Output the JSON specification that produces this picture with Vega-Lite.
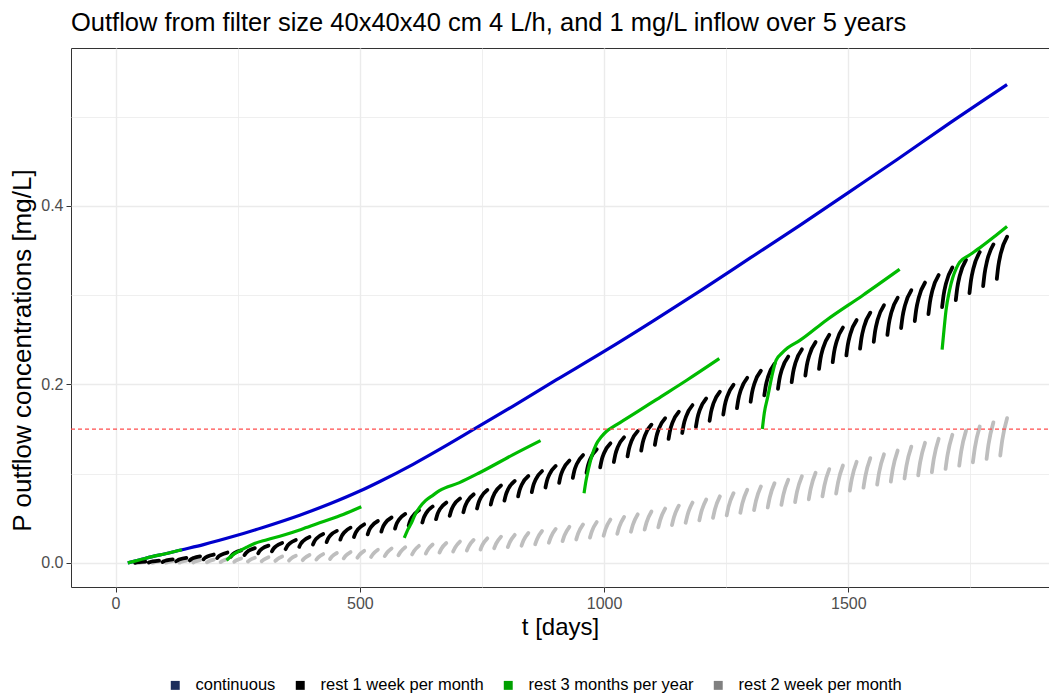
{
"$schema": "https://vega.github.io/schema/vega-lite/v6.json",
"width": 978, "height": 539,
"autosize": {"type": "none"},
"padding": {"left": 71, "top": 48, "right": 0, "bottom": 107},
"background": "white",
"title": {"text": "Outflow from filter size 40x40x40 cm 4 L/h, and 1 mg/L inflow over 5 years", "anchor": "start", "frame": "group", "fontSize": 25.5, "font": "Liberation Sans", "fontWeight": "normal", "color": "#000000", "offset": 14, "dy": 22, "baseline": "alphabetic"},
"config": {"view": {"stroke": "#333333", "strokeWidth": 1}, "font": "Liberation Sans"},
"data": {"values": [
{"series":"continuous","seg":0,"t":25,"p":0},{"series":"continuous","seg":0,"t":50,"p":0.0035},{"series":"continuous","seg":0,"t":75,"p":0.007},{"series":"continuous","seg":0,"t":100,"p":0.010},{"series":"continuous","seg":0,"t":134,"p":0.0145},{"series":"continuous","seg":0,"t":180,"p":0.0205},{"series":"continuous","seg":0,"t":240,"p":0.0295},{"series":"continuous","seg":0,"t":300,"p":0.0395},{"series":"continuous","seg":0,"t":377,"p":0.0535},{"series":"continuous","seg":0,"t":440,"p":0.0665},{"series":"continuous","seg":0,"t":500,"p":0.0805},{"series":"continuous","seg":0,"t":540,"p":0.091},{"series":"continuous","seg":0,"t":609,"p":0.1105},{"series":"continuous","seg":0,"t":680,"p":0.1325},{"series":"continuous","seg":0,"t":725,"p":0.147},{"series":"continuous","seg":0,"t":813,"p":0.1755},{"series":"continuous","seg":0,"t":902,"p":0.205},{"series":"continuous","seg":0,"t":1000,"p":0.237},{"series":"continuous","seg":0,"t":1100,"p":0.271},{"series":"continuous","seg":0,"t":1200,"p":0.306},{"series":"continuous","seg":0,"t":1300,"p":0.342},{"series":"continuous","seg":0,"t":1400,"p":0.378},{"series":"continuous","seg":0,"t":1500,"p":0.415},{"series":"continuous","seg":0,"t":1600,"p":0.452},{"series":"continuous","seg":0,"t":1700,"p":0.490},{"series":"continuous","seg":0,"t":1825,"p":0.536},

{"series":"rest 3 months per year","seg":1,"t":25,"p":0},{"series":"rest 3 months per year","seg":1,"t":50,"p":0.0035},{"series":"rest 3 months per year","seg":1,"t":75,"p":0.007},{"series":"rest 3 months per year","seg":1,"t":100,"p":0.010},{"series":"rest 3 months per year","seg":1,"t":136,"p":0.0148},
{"series":"rest 3 months per year","seg":2,"t":227,"p":0.003},{"series":"rest 3 months per year","seg":2,"t":240,"p":0.009},{"series":"rest 3 months per year","seg":2,"t":254,"p":0.0135},{"series":"rest 3 months per year","seg":2,"t":268,"p":0.0175},{"series":"rest 3 months per year","seg":2,"t":281,"p":0.021},{"series":"rest 3 months per year","seg":2,"t":310,"p":0.026},{"series":"rest 3 months per year","seg":2,"t":343,"p":0.031},{"series":"rest 3 months per year","seg":2,"t":380,"p":0.0375},{"series":"rest 3 months per year","seg":2,"t":411,"p":0.0435},{"series":"rest 3 months per year","seg":2,"t":460,"p":0.053},{"series":"rest 3 months per year","seg":2,"t":503,"p":0.063},
{"series":"rest 3 months per year","seg":3,"t":591,"p":0.028},{"series":"rest 3 months per year","seg":3,"t":598,"p":0.037},{"series":"rest 3 months per year","seg":3,"t":605,"p":0.044},{"series":"rest 3 months per year","seg":3,"t":613,"p":0.054},{"series":"rest 3 months per year","seg":3,"t":622,"p":0.062},{"series":"rest 3 months per year","seg":3,"t":635,"p":0.070},{"series":"rest 3 months per year","seg":3,"t":650,"p":0.076},{"series":"rest 3 months per year","seg":3,"t":663,"p":0.081},{"series":"rest 3 months per year","seg":3,"t":704,"p":0.090},{"series":"rest 3 months per year","seg":3,"t":745,"p":0.101},{"series":"rest 3 months per year","seg":3,"t":813,"p":0.121},{"series":"rest 3 months per year","seg":3,"t":870,"p":0.137},
{"series":"rest 3 months per year","seg":4,"t":959,"p":0.078},{"series":"rest 3 months per year","seg":4,"t":963,"p":0.092},{"series":"rest 3 months per year","seg":4,"t":968,"p":0.105},{"series":"rest 3 months per year","seg":4,"t":975,"p":0.120},{"series":"rest 3 months per year","seg":4,"t":984,"p":0.133},{"series":"rest 3 months per year","seg":4,"t":994,"p":0.141},{"series":"rest 3 months per year","seg":4,"t":1004,"p":0.147},{"series":"rest 3 months per year","seg":4,"t":1020,"p":0.153},{"series":"rest 3 months per year","seg":4,"t":1032,"p":0.157},{"series":"rest 3 months per year","seg":4,"t":1070,"p":0.170},{"series":"rest 3 months per year","seg":4,"t":1107,"p":0.183},{"series":"rest 3 months per year","seg":4,"t":1170,"p":0.205},{"series":"rest 3 months per year","seg":4,"t":1236,"p":0.229},
{"series":"rest 3 months per year","seg":5,"t":1324,"p":0.150},{"series":"rest 3 months per year","seg":5,"t":1328,"p":0.168},{"series":"rest 3 months per year","seg":5,"t":1335,"p":0.186},{"series":"rest 3 months per year","seg":5,"t":1343,"p":0.208},{"series":"rest 3 months per year","seg":5,"t":1352,"p":0.227},{"series":"rest 3 months per year","seg":5,"t":1364,"p":0.235},{"series":"rest 3 months per year","seg":5,"t":1376,"p":0.241},{"series":"rest 3 months per year","seg":5,"t":1400,"p":0.249},{"series":"rest 3 months per year","seg":5,"t":1455,"p":0.272},{"series":"rest 3 months per year","seg":5,"t":1530,"p":0.300},{"series":"rest 3 months per year","seg":5,"t":1605,"p":0.329},
{"series":"rest 3 months per year","seg":6,"t":1692,"p":0.239},{"series":"rest 3 months per year","seg":6,"t":1696,"p":0.262},{"series":"rest 3 months per year","seg":6,"t":1700,"p":0.283},{"series":"rest 3 months per year","seg":6,"t":1707,"p":0.305},{"series":"rest 3 months per year","seg":6,"t":1714,"p":0.320},{"series":"rest 3 months per year","seg":6,"t":1721,"p":0.330},{"series":"rest 3 months per year","seg":6,"t":1728,"p":0.337},{"series":"rest 3 months per year","seg":6,"t":1748,"p":0.345},{"series":"rest 3 months per year","seg":6,"t":1769,"p":0.353},{"series":"rest 3 months per year","seg":6,"t":1800,"p":0.366},{"series":"rest 3 months per year","seg":6,"t":1825,"p":0.377},

{"series":"rest 1 week per month","seg":0,"t":40,"p":0.0000},{"series":"rest 1 week per month","seg":0,"t":43,"p":0.0005},{"series":"rest 1 week per month","seg":0,"t":48,"p":0.0009},{"series":"rest 1 week per month","seg":0,"t":61,"p":0.0015},
{"series":"rest 1 week per month","seg":1,"t":68,"p":0.0004},{"series":"rest 1 week per month","seg":1,"t":71,"p":0.0011},{"series":"rest 1 week per month","seg":1,"t":76,"p":0.0017},{"series":"rest 1 week per month","seg":1,"t":89,"p":0.0026},
{"series":"rest 1 week per month","seg":2,"t":96,"p":0.0010},{"series":"rest 1 week per month","seg":2,"t":99,"p":0.0019},{"series":"rest 1 week per month","seg":2,"t":104,"p":0.0028},{"series":"rest 1 week per month","seg":2,"t":117,"p":0.0040},
{"series":"rest 1 week per month","seg":3,"t":124,"p":0.0018},{"series":"rest 1 week per month","seg":3,"t":127,"p":0.0029},{"series":"rest 1 week per month","seg":3,"t":132,"p":0.0041},{"series":"rest 1 week per month","seg":3,"t":145,"p":0.0056},
{"series":"rest 1 week per month","seg":4,"t":152,"p":0.0028},{"series":"rest 1 week per month","seg":4,"t":155,"p":0.0042},{"series":"rest 1 week per month","seg":4,"t":160,"p":0.0056},{"series":"rest 1 week per month","seg":4,"t":173,"p":0.0074},
{"series":"rest 1 week per month","seg":5,"t":180,"p":0.0040},{"series":"rest 1 week per month","seg":5,"t":183,"p":0.0056},{"series":"rest 1 week per month","seg":5,"t":188,"p":0.0072},{"series":"rest 1 week per month","seg":5,"t":201,"p":0.0094},
{"series":"rest 1 week per month","seg":6,"t":208,"p":0.0054},{"series":"rest 1 week per month","seg":6,"t":211,"p":0.0073},{"series":"rest 1 week per month","seg":6,"t":216,"p":0.0091},{"series":"rest 1 week per month","seg":6,"t":229,"p":0.0116},
{"series":"rest 1 week per month","seg":7,"t":236,"p":0.0070},{"series":"rest 1 week per month","seg":7,"t":239,"p":0.0091},{"series":"rest 1 week per month","seg":7,"t":244,"p":0.0112},{"series":"rest 1 week per month","seg":7,"t":257,"p":0.0140},
{"series":"rest 1 week per month","seg":8,"t":264,"p":0.0088},{"series":"rest 1 week per month","seg":8,"t":267,"p":0.0111},{"series":"rest 1 week per month","seg":8,"t":272,"p":0.0135},{"series":"rest 1 week per month","seg":8,"t":285,"p":0.0166},
{"series":"rest 1 week per month","seg":9,"t":292,"p":0.0108},{"series":"rest 1 week per month","seg":9,"t":295,"p":0.0134},{"series":"rest 1 week per month","seg":9,"t":300,"p":0.0160},{"series":"rest 1 week per month","seg":9,"t":313,"p":0.0194},
{"series":"rest 1 week per month","seg":10,"t":320,"p":0.0130},{"series":"rest 1 week per month","seg":10,"t":323,"p":0.0158},{"series":"rest 1 week per month","seg":10,"t":328,"p":0.0186},{"series":"rest 1 week per month","seg":10,"t":341,"p":0.0224},
{"series":"rest 1 week per month","seg":11,"t":348,"p":0.0154},{"series":"rest 1 week per month","seg":11,"t":351,"p":0.0185},{"series":"rest 1 week per month","seg":11,"t":356,"p":0.0215},{"series":"rest 1 week per month","seg":11,"t":369,"p":0.0256},
{"series":"rest 1 week per month","seg":12,"t":376,"p":0.0180},{"series":"rest 1 week per month","seg":12,"t":379,"p":0.0213},{"series":"rest 1 week per month","seg":12,"t":384,"p":0.0246},{"series":"rest 1 week per month","seg":12,"t":397,"p":0.0290},
{"series":"rest 1 week per month","seg":13,"t":404,"p":0.0206},{"series":"rest 1 week per month","seg":13,"t":407,"p":0.0241},{"series":"rest 1 week per month","seg":13,"t":412,"p":0.0277},{"series":"rest 1 week per month","seg":13,"t":425,"p":0.0324},
{"series":"rest 1 week per month","seg":14,"t":432,"p":0.0233},{"series":"rest 1 week per month","seg":14,"t":435,"p":0.0271},{"series":"rest 1 week per month","seg":14,"t":440,"p":0.0309},{"series":"rest 1 week per month","seg":14,"t":453,"p":0.0359},
{"series":"rest 1 week per month","seg":15,"t":460,"p":0.0261},{"series":"rest 1 week per month","seg":15,"t":463,"p":0.0301},{"series":"rest 1 week per month","seg":15,"t":468,"p":0.0341},{"series":"rest 1 week per month","seg":15,"t":481,"p":0.0395},
{"series":"rest 1 week per month","seg":16,"t":488,"p":0.0290},{"series":"rest 1 week per month","seg":16,"t":491,"p":0.0333},{"series":"rest 1 week per month","seg":16,"t":496,"p":0.0375},{"series":"rest 1 week per month","seg":16,"t":509,"p":0.0432},
{"series":"rest 1 week per month","seg":17,"t":516,"p":0.0320},{"series":"rest 1 week per month","seg":17,"t":519,"p":0.0365},{"series":"rest 1 week per month","seg":17,"t":524,"p":0.0410},{"series":"rest 1 week per month","seg":17,"t":537,"p":0.0470},
{"series":"rest 1 week per month","seg":18,"t":544,"p":0.0351},{"series":"rest 1 week per month","seg":18,"t":547,"p":0.0398},{"series":"rest 1 week per month","seg":18,"t":552,"p":0.0446},{"series":"rest 1 week per month","seg":18,"t":565,"p":0.0509},
{"series":"rest 1 week per month","seg":19,"t":572,"p":0.0384},{"series":"rest 1 week per month","seg":19,"t":575,"p":0.0434},{"series":"rest 1 week per month","seg":19,"t":580,"p":0.0483},{"series":"rest 1 week per month","seg":19,"t":593,"p":0.0549},
{"series":"rest 1 week per month","seg":20,"t":600,"p":0.0418},{"series":"rest 1 week per month","seg":20,"t":603,"p":0.0470},{"series":"rest 1 week per month","seg":20,"t":608,"p":0.0521},{"series":"rest 1 week per month","seg":20,"t":621,"p":0.0590},
{"series":"rest 1 week per month","seg":21,"t":628,"p":0.0453},{"series":"rest 1 week per month","seg":21,"t":631,"p":0.0507},{"series":"rest 1 week per month","seg":21,"t":636,"p":0.0560},{"series":"rest 1 week per month","seg":21,"t":649,"p":0.0632},
{"series":"rest 1 week per month","seg":22,"t":656,"p":0.0490},{"series":"rest 1 week per month","seg":22,"t":659,"p":0.0546},{"series":"rest 1 week per month","seg":22,"t":664,"p":0.0602},{"series":"rest 1 week per month","seg":22,"t":677,"p":0.0676},
{"series":"rest 1 week per month","seg":23,"t":684,"p":0.0528},{"series":"rest 1 week per month","seg":23,"t":687,"p":0.0586},{"series":"rest 1 week per month","seg":23,"t":692,"p":0.0644},{"series":"rest 1 week per month","seg":23,"t":705,"p":0.0721},
{"series":"rest 1 week per month","seg":24,"t":712,"p":0.0568},{"series":"rest 1 week per month","seg":24,"t":715,"p":0.0628},{"series":"rest 1 week per month","seg":24,"t":720,"p":0.0688},{"series":"rest 1 week per month","seg":24,"t":733,"p":0.0768},
{"series":"rest 1 week per month","seg":25,"t":740,"p":0.0610},{"series":"rest 1 week per month","seg":25,"t":743,"p":0.0672},{"series":"rest 1 week per month","seg":25,"t":748,"p":0.0734},{"series":"rest 1 week per month","seg":25,"t":761,"p":0.0817},
{"series":"rest 1 week per month","seg":26,"t":768,"p":0.0653},{"series":"rest 1 week per month","seg":26,"t":771,"p":0.0717},{"series":"rest 1 week per month","seg":26,"t":776,"p":0.0781},{"series":"rest 1 week per month","seg":26,"t":789,"p":0.0867},
{"series":"rest 1 week per month","seg":27,"t":796,"p":0.0698},{"series":"rest 1 week per month","seg":27,"t":799,"p":0.0764},{"series":"rest 1 week per month","seg":27,"t":804,"p":0.0831},{"series":"rest 1 week per month","seg":27,"t":817,"p":0.0919},
{"series":"rest 1 week per month","seg":28,"t":824,"p":0.0745},{"series":"rest 1 week per month","seg":28,"t":827,"p":0.0813},{"series":"rest 1 week per month","seg":28,"t":832,"p":0.0882},{"series":"rest 1 week per month","seg":28,"t":845,"p":0.0973},
{"series":"rest 1 week per month","seg":29,"t":852,"p":0.0794},{"series":"rest 1 week per month","seg":29,"t":855,"p":0.0865},{"series":"rest 1 week per month","seg":29,"t":860,"p":0.0935},{"series":"rest 1 week per month","seg":29,"t":873,"p":0.1029},
{"series":"rest 1 week per month","seg":30,"t":880,"p":0.0845},{"series":"rest 1 week per month","seg":30,"t":883,"p":0.0918},{"series":"rest 1 week per month","seg":30,"t":888,"p":0.0990},{"series":"rest 1 week per month","seg":30,"t":901,"p":0.1087},
{"series":"rest 1 week per month","seg":31,"t":908,"p":0.0898},{"series":"rest 1 week per month","seg":31,"t":911,"p":0.0973},{"series":"rest 1 week per month","seg":31,"t":916,"p":0.1047},{"series":"rest 1 week per month","seg":31,"t":929,"p":0.1147},
{"series":"rest 1 week per month","seg":32,"t":936,"p":0.0953},{"series":"rest 1 week per month","seg":32,"t":939,"p":0.1030},{"series":"rest 1 week per month","seg":32,"t":944,"p":0.1107},{"series":"rest 1 week per month","seg":32,"t":957,"p":0.1209},
{"series":"rest 1 week per month","seg":33,"t":964,"p":0.1010},{"series":"rest 1 week per month","seg":33,"t":967,"p":0.1089},{"series":"rest 1 week per month","seg":33,"t":972,"p":0.1168},{"series":"rest 1 week per month","seg":33,"t":985,"p":0.1273},
{"series":"rest 1 week per month","seg":34,"t":992,"p":0.1070},{"series":"rest 1 week per month","seg":34,"t":995,"p":0.1151},{"series":"rest 1 week per month","seg":34,"t":1000,"p":0.1232},{"series":"rest 1 week per month","seg":34,"t":1013,"p":0.1340},
{"series":"rest 1 week per month","seg":35,"t":1020,"p":0.1131},{"series":"rest 1 week per month","seg":35,"t":1023,"p":0.1214},{"series":"rest 1 week per month","seg":35,"t":1028,"p":0.1297},{"series":"rest 1 week per month","seg":35,"t":1041,"p":0.1408},
{"series":"rest 1 week per month","seg":36,"t":1048,"p":0.1194},{"series":"rest 1 week per month","seg":36,"t":1051,"p":0.1279},{"series":"rest 1 week per month","seg":36,"t":1056,"p":0.1364},{"series":"rest 1 week per month","seg":36,"t":1069,"p":0.1478},
{"series":"rest 1 week per month","seg":37,"t":1076,"p":0.1258},{"series":"rest 1 week per month","seg":37,"t":1079,"p":0.1345},{"series":"rest 1 week per month","seg":37,"t":1084,"p":0.1433},{"series":"rest 1 week per month","seg":37,"t":1097,"p":0.1549},
{"series":"rest 1 week per month","seg":38,"t":1104,"p":0.1323},{"series":"rest 1 week per month","seg":38,"t":1107,"p":0.1412},{"series":"rest 1 week per month","seg":38,"t":1112,"p":0.1502},{"series":"rest 1 week per month","seg":38,"t":1125,"p":0.1621},
{"series":"rest 1 week per month","seg":39,"t":1132,"p":0.1389},{"series":"rest 1 week per month","seg":39,"t":1135,"p":0.1481},{"series":"rest 1 week per month","seg":39,"t":1140,"p":0.1572},{"series":"rest 1 week per month","seg":39,"t":1153,"p":0.1694},
{"series":"rest 1 week per month","seg":40,"t":1160,"p":0.1456},{"series":"rest 1 week per month","seg":40,"t":1163,"p":0.1550},{"series":"rest 1 week per month","seg":40,"t":1168,"p":0.1643},{"series":"rest 1 week per month","seg":40,"t":1181,"p":0.1768},
{"series":"rest 1 week per month","seg":41,"t":1188,"p":0.1524},{"series":"rest 1 week per month","seg":41,"t":1191,"p":0.1620},{"series":"rest 1 week per month","seg":41,"t":1196,"p":0.1715},{"series":"rest 1 week per month","seg":41,"t":1209,"p":0.1843},
{"series":"rest 1 week per month","seg":42,"t":1216,"p":0.1593},{"series":"rest 1 week per month","seg":42,"t":1219,"p":0.1691},{"series":"rest 1 week per month","seg":42,"t":1224,"p":0.1789},{"series":"rest 1 week per month","seg":42,"t":1237,"p":0.1919},
{"series":"rest 1 week per month","seg":43,"t":1244,"p":0.1663},{"series":"rest 1 week per month","seg":43,"t":1247,"p":0.1763},{"series":"rest 1 week per month","seg":43,"t":1252,"p":0.1863},{"series":"rest 1 week per month","seg":43,"t":1265,"p":0.1996},
{"series":"rest 1 week per month","seg":44,"t":1272,"p":0.1734},{"series":"rest 1 week per month","seg":44,"t":1275,"p":0.1836},{"series":"rest 1 week per month","seg":44,"t":1280,"p":0.1938},{"series":"rest 1 week per month","seg":44,"t":1293,"p":0.2074},
{"series":"rest 1 week per month","seg":45,"t":1300,"p":0.1806},{"series":"rest 1 week per month","seg":45,"t":1303,"p":0.1910},{"series":"rest 1 week per month","seg":45,"t":1308,"p":0.2014},{"series":"rest 1 week per month","seg":45,"t":1321,"p":0.2153},
{"series":"rest 1 week per month","seg":46,"t":1328,"p":0.1878},{"series":"rest 1 week per month","seg":46,"t":1331,"p":0.1984},{"series":"rest 1 week per month","seg":46,"t":1336,"p":0.2090},{"series":"rest 1 week per month","seg":46,"t":1349,"p":0.2232},
{"series":"rest 1 week per month","seg":47,"t":1356,"p":0.1951},{"series":"rest 1 week per month","seg":47,"t":1359,"p":0.2059},{"series":"rest 1 week per month","seg":47,"t":1364,"p":0.2168},{"series":"rest 1 week per month","seg":47,"t":1377,"p":0.2312},
{"series":"rest 1 week per month","seg":48,"t":1384,"p":0.2025},{"series":"rest 1 week per month","seg":48,"t":1387,"p":0.2135},{"series":"rest 1 week per month","seg":48,"t":1392,"p":0.2246},{"series":"rest 1 week per month","seg":48,"t":1405,"p":0.2393},
{"series":"rest 1 week per month","seg":49,"t":1412,"p":0.2099},{"series":"rest 1 week per month","seg":49,"t":1415,"p":0.2212},{"series":"rest 1 week per month","seg":49,"t":1420,"p":0.2324},{"series":"rest 1 week per month","seg":49,"t":1433,"p":0.2474},
{"series":"rest 1 week per month","seg":50,"t":1440,"p":0.2174},{"series":"rest 1 week per month","seg":50,"t":1443,"p":0.2289},{"series":"rest 1 week per month","seg":50,"t":1448,"p":0.2403},{"series":"rest 1 week per month","seg":50,"t":1461,"p":0.2556},
{"series":"rest 1 week per month","seg":51,"t":1468,"p":0.2249},{"series":"rest 1 week per month","seg":51,"t":1471,"p":0.2366},{"series":"rest 1 week per month","seg":51,"t":1476,"p":0.2482},{"series":"rest 1 week per month","seg":51,"t":1489,"p":0.2638},
{"series":"rest 1 week per month","seg":52,"t":1496,"p":0.2325},{"series":"rest 1 week per month","seg":52,"t":1499,"p":0.2444},{"series":"rest 1 week per month","seg":52,"t":1504,"p":0.2563},{"series":"rest 1 week per month","seg":52,"t":1517,"p":0.2721},
{"series":"rest 1 week per month","seg":53,"t":1524,"p":0.2401},{"series":"rest 1 week per month","seg":53,"t":1527,"p":0.2522},{"series":"rest 1 week per month","seg":53,"t":1532,"p":0.2643},{"series":"rest 1 week per month","seg":53,"t":1545,"p":0.2804},
{"series":"rest 1 week per month","seg":54,"t":1552,"p":0.2478},{"series":"rest 1 week per month","seg":54,"t":1555,"p":0.2601},{"series":"rest 1 week per month","seg":54,"t":1560,"p":0.2724},{"series":"rest 1 week per month","seg":54,"t":1573,"p":0.2888},
{"series":"rest 1 week per month","seg":55,"t":1580,"p":0.2555},{"series":"rest 1 week per month","seg":55,"t":1583,"p":0.2680},{"series":"rest 1 week per month","seg":55,"t":1588,"p":0.2805},{"series":"rest 1 week per month","seg":55,"t":1601,"p":0.2972},
{"series":"rest 1 week per month","seg":56,"t":1608,"p":0.2632},{"series":"rest 1 week per month","seg":56,"t":1611,"p":0.2759},{"series":"rest 1 week per month","seg":56,"t":1616,"p":0.2886},{"series":"rest 1 week per month","seg":56,"t":1629,"p":0.3056},
{"series":"rest 1 week per month","seg":57,"t":1636,"p":0.2710},{"series":"rest 1 week per month","seg":57,"t":1639,"p":0.2839},{"series":"rest 1 week per month","seg":57,"t":1644,"p":0.2969},{"series":"rest 1 week per month","seg":57,"t":1657,"p":0.3141},
{"series":"rest 1 week per month","seg":58,"t":1664,"p":0.2788},{"series":"rest 1 week per month","seg":58,"t":1667,"p":0.2919},{"series":"rest 1 week per month","seg":58,"t":1672,"p":0.3051},{"series":"rest 1 week per month","seg":58,"t":1685,"p":0.3226},
{"series":"rest 1 week per month","seg":59,"t":1692,"p":0.2866},{"series":"rest 1 week per month","seg":59,"t":1695,"p":0.3000},{"series":"rest 1 week per month","seg":59,"t":1700,"p":0.3133},{"series":"rest 1 week per month","seg":59,"t":1713,"p":0.3311},
{"series":"rest 1 week per month","seg":60,"t":1720,"p":0.2945},{"series":"rest 1 week per month","seg":60,"t":1723,"p":0.3081},{"series":"rest 1 week per month","seg":60,"t":1728,"p":0.3216},{"series":"rest 1 week per month","seg":60,"t":1741,"p":0.3397},
{"series":"rest 1 week per month","seg":61,"t":1748,"p":0.3024},{"series":"rest 1 week per month","seg":61,"t":1751,"p":0.3162},{"series":"rest 1 week per month","seg":61,"t":1756,"p":0.3299},{"series":"rest 1 week per month","seg":61,"t":1769,"p":0.3483},
{"series":"rest 1 week per month","seg":62,"t":1776,"p":0.3103},{"series":"rest 1 week per month","seg":62,"t":1779,"p":0.3243},{"series":"rest 1 week per month","seg":62,"t":1784,"p":0.3383},{"series":"rest 1 week per month","seg":62,"t":1797,"p":0.3569},
{"series":"rest 1 week per month","seg":63,"t":1804,"p":0.3182},{"series":"rest 1 week per month","seg":63,"t":1807,"p":0.3324},{"series":"rest 1 week per month","seg":63,"t":1812,"p":0.3466},{"series":"rest 1 week per month","seg":63,"t":1825,"p":0.3655},

{"series":"rest 2 week per month","seg":0,"t":47,"p":0.0000},{"series":"rest 2 week per month","seg":0,"t":51,"p":0.0004},{"series":"rest 2 week per month","seg":0,"t":61,"p":0.0010},
{"series":"rest 2 week per month","seg":1,"t":75,"p":0.0001},{"series":"rest 2 week per month","seg":1,"t":79,"p":0.0007},{"series":"rest 2 week per month","seg":1,"t":89,"p":0.0015},
{"series":"rest 2 week per month","seg":2,"t":103,"p":0.0002},{"series":"rest 2 week per month","seg":2,"t":107,"p":0.0009},{"series":"rest 2 week per month","seg":2,"t":117,"p":0.0020},
{"series":"rest 2 week per month","seg":3,"t":131,"p":0.0003},{"series":"rest 2 week per month","seg":3,"t":135,"p":0.0012},{"series":"rest 2 week per month","seg":3,"t":145,"p":0.0025},
{"series":"rest 2 week per month","seg":4,"t":159,"p":0.0005},{"series":"rest 2 week per month","seg":4,"t":163,"p":0.0015},{"series":"rest 2 week per month","seg":4,"t":173,"p":0.0031},
{"series":"rest 2 week per month","seg":5,"t":187,"p":0.0007},{"series":"rest 2 week per month","seg":5,"t":191,"p":0.0019},{"series":"rest 2 week per month","seg":5,"t":201,"p":0.0037},
{"series":"rest 2 week per month","seg":6,"t":215,"p":0.0009},{"series":"rest 2 week per month","seg":6,"t":219,"p":0.0023},{"series":"rest 2 week per month","seg":6,"t":229,"p":0.0043},
{"series":"rest 2 week per month","seg":7,"t":243,"p":0.0012},{"series":"rest 2 week per month","seg":7,"t":247,"p":0.0027},{"series":"rest 2 week per month","seg":7,"t":257,"p":0.0050},
{"series":"rest 2 week per month","seg":8,"t":271,"p":0.0015},{"series":"rest 2 week per month","seg":8,"t":275,"p":0.0032},{"series":"rest 2 week per month","seg":8,"t":285,"p":0.0057},
{"series":"rest 2 week per month","seg":9,"t":299,"p":0.0018},{"series":"rest 2 week per month","seg":9,"t":303,"p":0.0036},{"series":"rest 2 week per month","seg":9,"t":313,"p":0.0064},
{"series":"rest 2 week per month","seg":10,"t":327,"p":0.0022},{"series":"rest 2 week per month","seg":10,"t":331,"p":0.0042},{"series":"rest 2 week per month","seg":10,"t":341,"p":0.0072},
{"series":"rest 2 week per month","seg":11,"t":355,"p":0.0026},{"series":"rest 2 week per month","seg":11,"t":359,"p":0.0048},{"series":"rest 2 week per month","seg":11,"t":369,"p":0.0080},
{"series":"rest 2 week per month","seg":12,"t":383,"p":0.0031},{"series":"rest 2 week per month","seg":12,"t":387,"p":0.0054},{"series":"rest 2 week per month","seg":12,"t":397,"p":0.0089},
{"series":"rest 2 week per month","seg":13,"t":411,"p":0.0037},{"series":"rest 2 week per month","seg":13,"t":415,"p":0.0062},{"series":"rest 2 week per month","seg":13,"t":425,"p":0.0099},
{"series":"rest 2 week per month","seg":14,"t":439,"p":0.0044},{"series":"rest 2 week per month","seg":14,"t":443,"p":0.0071},{"series":"rest 2 week per month","seg":14,"t":453,"p":0.0111},
{"series":"rest 2 week per month","seg":15,"t":467,"p":0.0051},{"series":"rest 2 week per month","seg":15,"t":471,"p":0.0079},{"series":"rest 2 week per month","seg":15,"t":481,"p":0.0122},
{"series":"rest 2 week per month","seg":16,"t":495,"p":0.0059},{"series":"rest 2 week per month","seg":16,"t":499,"p":0.0089},{"series":"rest 2 week per month","seg":16,"t":509,"p":0.0135},
{"series":"rest 2 week per month","seg":17,"t":523,"p":0.0067},{"series":"rest 2 week per month","seg":17,"t":527,"p":0.0099},{"series":"rest 2 week per month","seg":17,"t":537,"p":0.0148},
{"series":"rest 2 week per month","seg":18,"t":551,"p":0.0076},{"series":"rest 2 week per month","seg":18,"t":555,"p":0.0110},{"series":"rest 2 week per month","seg":18,"t":565,"p":0.0162},
{"series":"rest 2 week per month","seg":19,"t":579,"p":0.0085},{"series":"rest 2 week per month","seg":19,"t":583,"p":0.0121},{"series":"rest 2 week per month","seg":19,"t":593,"p":0.0176},
{"series":"rest 2 week per month","seg":20,"t":607,"p":0.0095},{"series":"rest 2 week per month","seg":20,"t":611,"p":0.0133},{"series":"rest 2 week per month","seg":20,"t":621,"p":0.0191},
{"series":"rest 2 week per month","seg":21,"t":635,"p":0.0105},{"series":"rest 2 week per month","seg":21,"t":639,"p":0.0145},{"series":"rest 2 week per month","seg":21,"t":649,"p":0.0206},
{"series":"rest 2 week per month","seg":22,"t":663,"p":0.0116},{"series":"rest 2 week per month","seg":22,"t":667,"p":0.0159},{"series":"rest 2 week per month","seg":22,"t":677,"p":0.0223},
{"series":"rest 2 week per month","seg":23,"t":691,"p":0.0127},{"series":"rest 2 week per month","seg":23,"t":695,"p":0.0172},{"series":"rest 2 week per month","seg":23,"t":705,"p":0.0239},
{"series":"rest 2 week per month","seg":24,"t":719,"p":0.0139},{"series":"rest 2 week per month","seg":24,"t":723,"p":0.0186},{"series":"rest 2 week per month","seg":24,"t":733,"p":0.0257},
{"series":"rest 2 week per month","seg":25,"t":747,"p":0.0151},{"series":"rest 2 week per month","seg":25,"t":751,"p":0.0201},{"series":"rest 2 week per month","seg":25,"t":761,"p":0.0275},
{"series":"rest 2 week per month","seg":26,"t":775,"p":0.0164},{"series":"rest 2 week per month","seg":26,"t":779,"p":0.0216},{"series":"rest 2 week per month","seg":26,"t":789,"p":0.0294},
{"series":"rest 2 week per month","seg":27,"t":803,"p":0.0178},{"series":"rest 2 week per month","seg":27,"t":807,"p":0.0232},{"series":"rest 2 week per month","seg":27,"t":817,"p":0.0314},
{"series":"rest 2 week per month","seg":28,"t":831,"p":0.0193},{"series":"rest 2 week per month","seg":28,"t":835,"p":0.0250},{"series":"rest 2 week per month","seg":28,"t":845,"p":0.0335},
{"series":"rest 2 week per month","seg":29,"t":859,"p":0.0209},{"series":"rest 2 week per month","seg":29,"t":863,"p":0.0268},{"series":"rest 2 week per month","seg":29,"t":873,"p":0.0357},
{"series":"rest 2 week per month","seg":30,"t":887,"p":0.0226},{"series":"rest 2 week per month","seg":30,"t":891,"p":0.0288},{"series":"rest 2 week per month","seg":30,"t":901,"p":0.0381},
{"series":"rest 2 week per month","seg":31,"t":915,"p":0.0244},{"series":"rest 2 week per month","seg":31,"t":919,"p":0.0308},{"series":"rest 2 week per month","seg":31,"t":929,"p":0.0405},
{"series":"rest 2 week per month","seg":32,"t":943,"p":0.0263},{"series":"rest 2 week per month","seg":32,"t":947,"p":0.0330},{"series":"rest 2 week per month","seg":32,"t":957,"p":0.0431},
{"series":"rest 2 week per month","seg":33,"t":971,"p":0.0283},{"series":"rest 2 week per month","seg":33,"t":975,"p":0.0353},{"series":"rest 2 week per month","seg":33,"t":985,"p":0.0458},
{"series":"rest 2 week per month","seg":34,"t":999,"p":0.0304},{"series":"rest 2 week per month","seg":34,"t":1003,"p":0.0377},{"series":"rest 2 week per month","seg":34,"t":1013,"p":0.0486},
{"series":"rest 2 week per month","seg":35,"t":1027,"p":0.0326},{"series":"rest 2 week per month","seg":35,"t":1031,"p":0.0402},{"series":"rest 2 week per month","seg":35,"t":1041,"p":0.0515},
{"series":"rest 2 week per month","seg":36,"t":1055,"p":0.0349},{"series":"rest 2 week per month","seg":36,"t":1059,"p":0.0427},{"series":"rest 2 week per month","seg":36,"t":1069,"p":0.0545},
{"series":"rest 2 week per month","seg":37,"t":1083,"p":0.0373},{"series":"rest 2 week per month","seg":37,"t":1087,"p":0.0454},{"series":"rest 2 week per month","seg":37,"t":1097,"p":0.0576},
{"series":"rest 2 week per month","seg":38,"t":1111,"p":0.0398},{"series":"rest 2 week per month","seg":38,"t":1115,"p":0.0482},{"series":"rest 2 week per month","seg":38,"t":1125,"p":0.0609},
{"series":"rest 2 week per month","seg":39,"t":1139,"p":0.0424},{"series":"rest 2 week per month","seg":39,"t":1143,"p":0.0511},{"series":"rest 2 week per month","seg":39,"t":1153,"p":0.0642},
{"series":"rest 2 week per month","seg":40,"t":1167,"p":0.0450},{"series":"rest 2 week per month","seg":40,"t":1171,"p":0.0540},{"series":"rest 2 week per month","seg":40,"t":1181,"p":0.0676},
{"series":"rest 2 week per month","seg":41,"t":1195,"p":0.0477},{"series":"rest 2 week per month","seg":41,"t":1199,"p":0.0570},{"series":"rest 2 week per month","seg":41,"t":1209,"p":0.0710},
{"series":"rest 2 week per month","seg":42,"t":1223,"p":0.0505},{"series":"rest 2 week per month","seg":42,"t":1227,"p":0.0601},{"series":"rest 2 week per month","seg":42,"t":1237,"p":0.0746},
{"series":"rest 2 week per month","seg":43,"t":1251,"p":0.0533},{"series":"rest 2 week per month","seg":43,"t":1255,"p":0.0633},{"series":"rest 2 week per month","seg":43,"t":1265,"p":0.0782},
{"series":"rest 2 week per month","seg":44,"t":1279,"p":0.0562},{"series":"rest 2 week per month","seg":44,"t":1283,"p":0.0665},{"series":"rest 2 week per month","seg":44,"t":1293,"p":0.0819},
{"series":"rest 2 week per month","seg":45,"t":1307,"p":0.0591},{"series":"rest 2 week per month","seg":45,"t":1311,"p":0.0697},{"series":"rest 2 week per month","seg":45,"t":1321,"p":0.0856},
{"series":"rest 2 week per month","seg":46,"t":1335,"p":0.0621},{"series":"rest 2 week per month","seg":46,"t":1339,"p":0.0730},{"series":"rest 2 week per month","seg":46,"t":1349,"p":0.0894},
{"series":"rest 2 week per month","seg":47,"t":1363,"p":0.0651},{"series":"rest 2 week per month","seg":47,"t":1367,"p":0.0763},{"series":"rest 2 week per month","seg":47,"t":1377,"p":0.0932},
{"series":"rest 2 week per month","seg":48,"t":1391,"p":0.0682},{"series":"rest 2 week per month","seg":48,"t":1395,"p":0.0798},{"series":"rest 2 week per month","seg":48,"t":1405,"p":0.0971},
{"series":"rest 2 week per month","seg":49,"t":1419,"p":0.0713},{"series":"rest 2 week per month","seg":49,"t":1423,"p":0.0832},{"series":"rest 2 week per month","seg":49,"t":1433,"p":0.1010},
{"series":"rest 2 week per month","seg":50,"t":1447,"p":0.0745},{"series":"rest 2 week per month","seg":50,"t":1451,"p":0.0867},{"series":"rest 2 week per month","seg":50,"t":1461,"p":0.1051},
{"series":"rest 2 week per month","seg":51,"t":1475,"p":0.0777},{"series":"rest 2 week per month","seg":51,"t":1479,"p":0.0903},{"series":"rest 2 week per month","seg":51,"t":1489,"p":0.1091},
{"series":"rest 2 week per month","seg":52,"t":1503,"p":0.0810},{"series":"rest 2 week per month","seg":52,"t":1507,"p":0.0939},{"series":"rest 2 week per month","seg":52,"t":1517,"p":0.1133},
{"series":"rest 2 week per month","seg":53,"t":1531,"p":0.0843},{"series":"rest 2 week per month","seg":53,"t":1535,"p":0.0975},{"series":"rest 2 week per month","seg":53,"t":1545,"p":0.1174},
{"series":"rest 2 week per month","seg":54,"t":1559,"p":0.0877},{"series":"rest 2 week per month","seg":54,"t":1563,"p":0.1013},{"series":"rest 2 week per month","seg":54,"t":1573,"p":0.1217},
{"series":"rest 2 week per month","seg":55,"t":1587,"p":0.0911},{"series":"rest 2 week per month","seg":55,"t":1591,"p":0.1050},{"series":"rest 2 week per month","seg":55,"t":1601,"p":0.1259},
{"series":"rest 2 week per month","seg":56,"t":1615,"p":0.0946},{"series":"rest 2 week per month","seg":56,"t":1619,"p":0.1089},{"series":"rest 2 week per month","seg":56,"t":1629,"p":0.1303},
{"series":"rest 2 week per month","seg":57,"t":1643,"p":0.0981},{"series":"rest 2 week per month","seg":57,"t":1647,"p":0.1127},{"series":"rest 2 week per month","seg":57,"t":1657,"p":0.1346},
{"series":"rest 2 week per month","seg":58,"t":1671,"p":0.1017},{"series":"rest 2 week per month","seg":58,"t":1675,"p":0.1167},{"series":"rest 2 week per month","seg":58,"t":1685,"p":0.1391},
{"series":"rest 2 week per month","seg":59,"t":1699,"p":0.1053},{"series":"rest 2 week per month","seg":59,"t":1703,"p":0.1206},{"series":"rest 2 week per month","seg":59,"t":1713,"p":0.1436},
{"series":"rest 2 week per month","seg":60,"t":1727,"p":0.1090},{"series":"rest 2 week per month","seg":60,"t":1731,"p":0.1247},{"series":"rest 2 week per month","seg":60,"t":1741,"p":0.1482},
{"series":"rest 2 week per month","seg":61,"t":1755,"p":0.1127},{"series":"rest 2 week per month","seg":61,"t":1759,"p":0.1287},{"series":"rest 2 week per month","seg":61,"t":1769,"p":0.1528},
{"series":"rest 2 week per month","seg":62,"t":1783,"p":0.1165},{"series":"rest 2 week per month","seg":62,"t":1787,"p":0.1329},{"series":"rest 2 week per month","seg":62,"t":1797,"p":0.1575},
{"series":"rest 2 week per month","seg":63,"t":1811,"p":0.1203},{"series":"rest 2 week per month","seg":63,"t":1815,"p":0.1371},{"series":"rest 2 week per month","seg":63,"t":1825,"p":0.1622}
]},
"encoding": {
  "x": {"field": "t", "type": "quantitative", "scale": {"domain": [-91.25, 1910.8], "nice": false, "zero": false},
    "axis": {"values": [0,250,500,750,1000,1250,1500,1750], "format": "d", "labelExpr": "datum.value % 500 === 0 ? datum.label : ''",
      "title": "t [days]", "titleFont": "Liberation Sans", "titleFontSize": 24, "titleFontWeight": "normal", "titleColor": "#000000", "titlePadding": 4,
      "labelFont": "Liberation Sans", "labelFontSize": 16, "labelColor": "#4D4D4D", "labelPadding": 3,
      "tickSize": 5, "tickColor": {"condition": {"test": "datum.value % 500 !== 0", "value": "transparent"}, "value": "#333333"},
      "domain": false, "gridColor": "#EBEBEB", "gridWidth": {"condition": {"test": "datum.value % 500 !== 0", "value": 0.8}, "value": 1.4}}},
  "y": {"field": "p", "type": "quantitative", "scale": {"domain": [-0.027, 0.577], "nice": false, "zero": false},
    "axis": {"values": [0,0.1,0.2,0.3,0.4,0.5], "format": ".1f", "labelExpr": "round(datum.value*10) % 2 === 0 ? datum.label : ''",
      "title": "P outflow concentrations [mg/L]", "titleFont": "Liberation Sans", "titleFontSize": 26, "titleFontWeight": "normal", "titleColor": "#000000", "titlePadding": 5, "titleY": 302,
      "labelFont": "Liberation Sans", "labelFontSize": 16, "labelColor": "#4D4D4D", "labelPadding": 3,
      "tickSize": 5, "tickColor": {"condition": {"test": "round(datum.value*10) % 2 !== 0", "value": "transparent"}, "value": "#333333"},
      "domain": false, "gridColor": "#EBEBEB", "gridWidth": {"condition": {"test": "round(datum.value*10) % 2 !== 0", "value": 0.8}, "value": 1.4}}}
},
"layer": [
  {"transform": [{"filter": "datum.series === 'continuous'"}], "mark": {"type": "line", "color": "#0000CC", "strokeWidth": 3.2, "interpolate": "monotone"}, "encoding": {"detail": {"field": "seg"}}},
  {"transform": [{"filter": "datum.series === 'rest 2 week per month'"}], "mark": {"type": "line", "color": "#BEBEBE", "strokeWidth": 3.8, "strokeCap": "round", "interpolate": "monotone"}, "encoding": {"detail": {"field": "seg"}}},
  {"transform": [{"filter": "datum.series === 'rest 1 week per month'"}], "mark": {"type": "line", "color": "#000000", "strokeWidth": 3.8, "strokeCap": "round", "interpolate": "monotone"}, "encoding": {"detail": {"field": "seg"}}},
  {"transform": [{"filter": "datum.series === 'rest 3 months per year'"}], "mark": {"type": "line", "color": "#00BB00", "strokeWidth": 3.2, "interpolate": "monotone"}, "encoding": {"detail": {"field": "seg"}}},
  {"data": {"values": [{"t": -91.25, "p": 0.15}, {"t": 1910.8, "p": 0.15}]}, "mark": {"type": "line", "color": "#FF4D4D", "strokeWidth": 1.3, "strokeDash": [4, 3]}, "encoding": {}},
  {"mark": {"type": "square", "opacity": 0}, "encoding": {"fill": {"field": "series", "type": "nominal",
    "scale": {"domain": ["continuous", "rest 1 week per month", "rest 3 months per year", "rest 2 week per month"], "range": ["#1C2E5C", "#000000", "#00A000", "#808080"]},
    "legend": {"orient": "none", "legendX": 96, "legendY": 629, "direction": "horizontal", "columns": 4, "title": null, "symbolType": "square", "symbolSize": 80, "symbolOpacity": 1, "symbolStrokeWidth": 0, "labelFont": "Liberation Sans", "labelFontSize": 16.5, "labelColor": "#000000", "labelOffset": 12, "labelLimit": 400, "columnPadding": 16}}}}
]
}
